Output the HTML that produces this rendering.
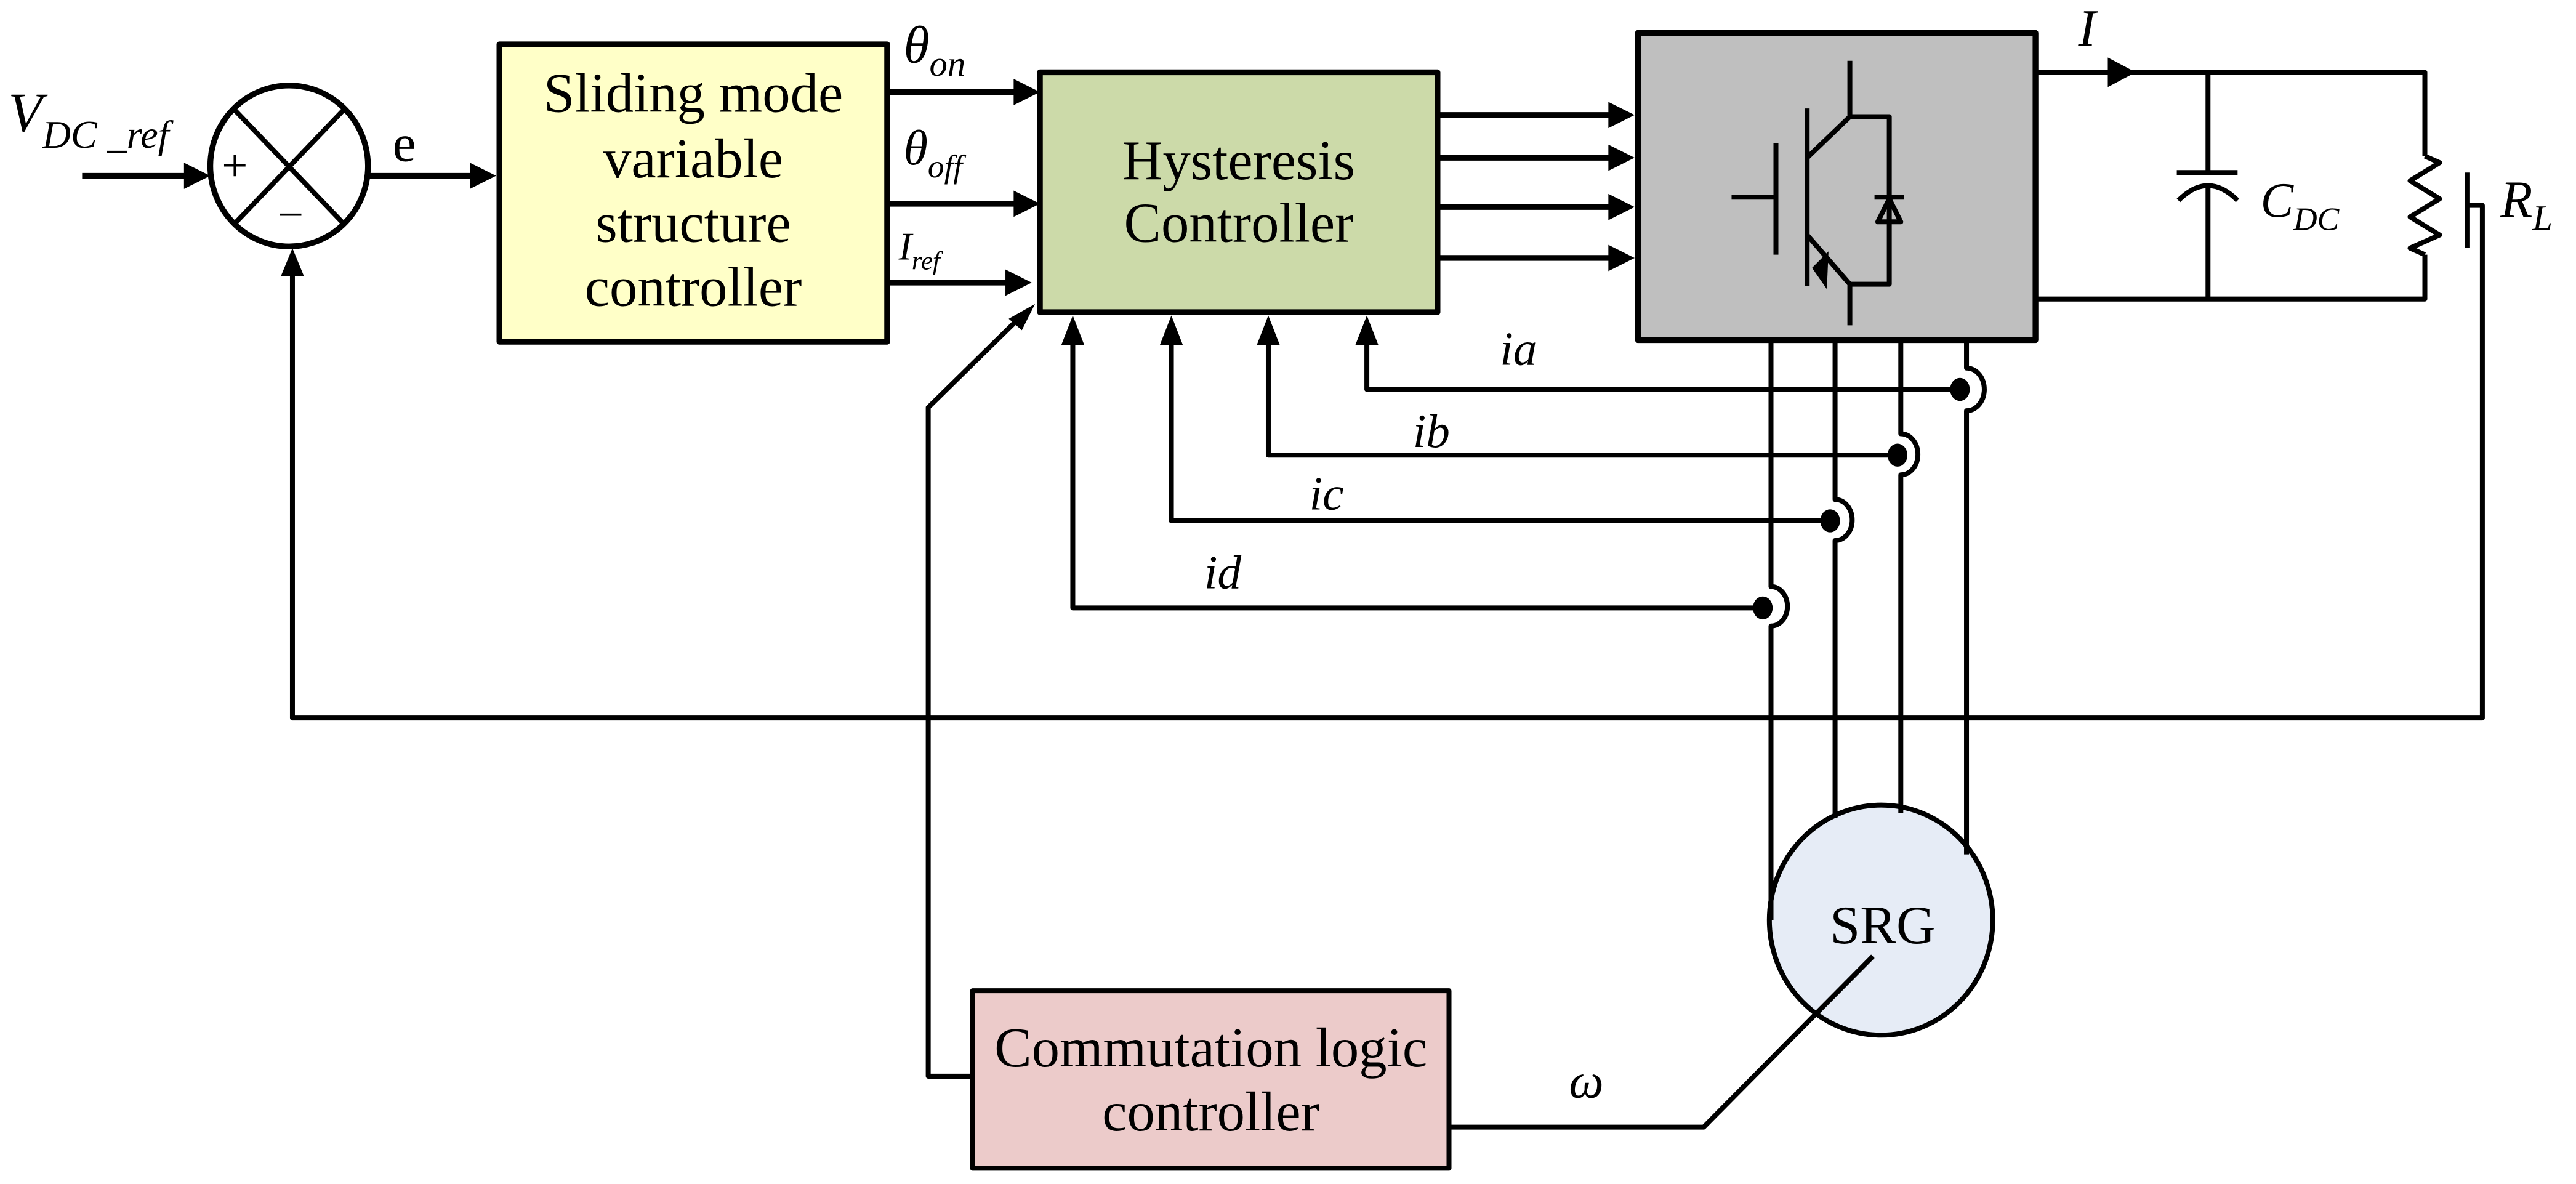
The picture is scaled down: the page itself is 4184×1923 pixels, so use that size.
<!DOCTYPE html>
<html><head><meta charset="utf-8"><style>
html,body{margin:0;padding:0;background:#fff;}
svg{display:block;}
text{font-family:"Liberation Serif",serif;fill:#000;}
</style></head><body>
<svg width="4184" height="1923" viewBox="0 0 1568 720.6" preserveAspectRatio="none" xmlns="http://www.w3.org/2000/svg">
<g stroke="#000" stroke-width="3" fill="none" stroke-linejoin="round">
<rect x="304" y="27" width="236" height="181" fill="#ffffc8" stroke-width="3.5"/>
<rect x="633" y="44" width="242" height="146" fill="#ccdaa9" stroke-width="3.5"/>
<rect x="997" y="20" width="242" height="187" fill="#bfbfbf" stroke-width="3.5"/>
<rect x="592" y="603" width="290" height="108" fill="#eccbca" stroke-width="3"/>
<ellipse cx="1145" cy="560" rx="68" ry="70" fill="#e6ecf6"/>
<ellipse cx="176" cy="101" rx="48" ry="49" stroke-width="3.5"/>
<line x1="142" y1="66" x2="210" y2="137"/>
<line x1="210" y1="66" x2="142" y2="137"/>
<line x1="50" y1="107" x2="118" y2="107" stroke-width="3.5"/>
<line x1="224" y1="107" x2="292" y2="107" stroke-width="3.5"/>
<line x1="540" y1="56" x2="622" y2="56" stroke-width="3.5"/>
<line x1="540" y1="124" x2="622" y2="124" stroke-width="3.5"/>
<line x1="540" y1="172" x2="616" y2="172" stroke-width="3.5"/>
<line x1="875" y1="70" x2="985" y2="70" stroke-width="3.5"/>
<line x1="875" y1="96" x2="985" y2="96" stroke-width="3.5"/>
<line x1="875" y1="126" x2="985" y2="126" stroke-width="3.5"/>
<line x1="875" y1="157" x2="985" y2="157" stroke-width="3.5"/>
<polyline points="592,655 565,655 565,248 622,192"/>
<polyline points="653,200 653,370 1074,370"/>
<polyline points="713,200 713,317 1115,317"/>
<polyline points="772,200 772,277 1155,277"/>
<polyline points="832,200 832,237 1193,237"/>
<path d="M1078,207 V357 A10,12 0 0 1 1078,381 V560"/>
<path d="M1117,207 V304 A10,12 0 0 1 1117,329 V498"/>
<path d="M1157,207 V264 A10,12 0 0 1 1157,289 V495"/>
<path d="M1197,207 V224 A10,12 0 0 1 1197,250 V520"/>
<polyline points="882,686 1037,686 1140,582"/>
<polyline points="178,160 178,437 1511,437 1511,125 1502,125"/>
<polyline points="1239,44 1476,44 1476,95"/>
<polyline points="1239,182 1476,182 1476,155"/>
<polyline points="1476,95 1485,99 1467,110 1485,121 1467,132 1485,143 1467,151 1476,155"/>
<line x1="1502" y1="105" x2="1502" y2="151"/>
<line x1="1344" y1="44" x2="1344" y2="105"/>
<line x1="1325" y1="105" x2="1362" y2="105"/>
<path d="M1326,122 Q1344,104 1362,122"/>
<line x1="1344" y1="113" x2="1344" y2="182"/>
<line x1="1054" y1="120" x2="1081" y2="120"/>
<line x1="1081" y1="87" x2="1081" y2="155"/>
<line x1="1100" y1="66" x2="1100" y2="174"/>
<polyline points="1100,96 1126,71 1126,37"/>
<polyline points="1126,71 1150,71 1150,173 1126,173"/>
<polyline points="1100,143 1126,173 1126,198"/>
<line x1="1141" y1="120" x2="1159" y2="120"/>
<polygon points="1150,121 1143,135 1157,135"/>
</g>
<g fill="#000">
<polygon points="128,107 112,99 112,115"/>
<polygon points="302,107 286,99 286,115"/>
<polygon points="633,56 617,48 617,64"/>
<polygon points="633,124 617,116 617,132"/>
<polygon points="628,172 612,164 612,180"/>
<polygon points="995,70 979,62 979,78"/>
<polygon points="995,96 979,88 979,104"/>
<polygon points="995,126 979,118 979,134"/>
<polygon points="995,157 979,149 979,165"/>
<polygon points="630,185 614,194 622,201"/>
<polygon points="653,192 646,210 660,210"/>
<polygon points="713,192 706,210 720,210"/>
<polygon points="772,192 765,210 779,210"/>
<polygon points="832,192 825,210 839,210"/>
<polygon points="178,151 171,168 185,168"/>
<polygon points="1300,44 1283,35 1283,53"/>
<polygon points="1112,176 1113,153 1103,163"/>
<ellipse cx="1193" cy="237" rx="6" ry="7"/>
<ellipse cx="1155" cy="277" rx="6" ry="7"/>
<ellipse cx="1114" cy="317" rx="6" ry="7"/>
<ellipse cx="1073" cy="370" rx="6" ry="7"/>
</g>
<g font-size="34" text-anchor="middle">
<text x="422" y="68">Sliding mode</text>
<text x="422" y="108">variable</text>
<text x="422" y="147">structure</text>
<text x="422" y="186">controller</text>
<text x="754" y="109">Hysteresis</text>
<text x="754" y="147">Controller</text>
<text x="737" y="649">Commutation logic</text>
<text x="737" y="688">controller</text>
<text x="1146" y="574" font-size="33">SRG</text>
</g>
<text x="135" y="110" font-size="28" font-family="Liberation Sans, sans-serif">+</text>
<text x="169" y="140" font-size="28" font-family="Liberation Sans, sans-serif">−</text>
<text x="239" y="98" font-size="32">e</text>
<text x="5" y="80" font-size="34" font-style="italic">V<tspan font-size="24" dy="10">DC _ref</tspan></text>
<text x="550" y="38" font-size="32" font-style="italic">θ<tspan font-size="22" dy="8">on</tspan></text>
<text x="550" y="100" font-size="30" font-style="italic">θ<tspan font-size="20" dy="8">off</tspan></text>
<text x="547" y="158" font-size="24" font-style="italic">I<tspan font-size="16" dy="6">ref</tspan></text>
<text x="1265" y="28" font-size="32" font-style="italic">I</text>
<text x="1376" y="132" font-size="30" font-style="italic">C<tspan font-size="20" dy="8">DC</tspan></text>
<text x="1522" y="132" font-size="32" font-style="italic">R<tspan font-size="22" dy="8">L</tspan></text>
<g font-size="29" font-style="italic">
<text x="913" y="222">ia</text>
<text x="860" y="272">ib</text>
<text x="797" y="310">ic</text>
<text x="733" y="358">id</text>
</g>
<text x="955" y="668" font-size="30" font-style="italic">ω</text>
</svg>
</body></html>
